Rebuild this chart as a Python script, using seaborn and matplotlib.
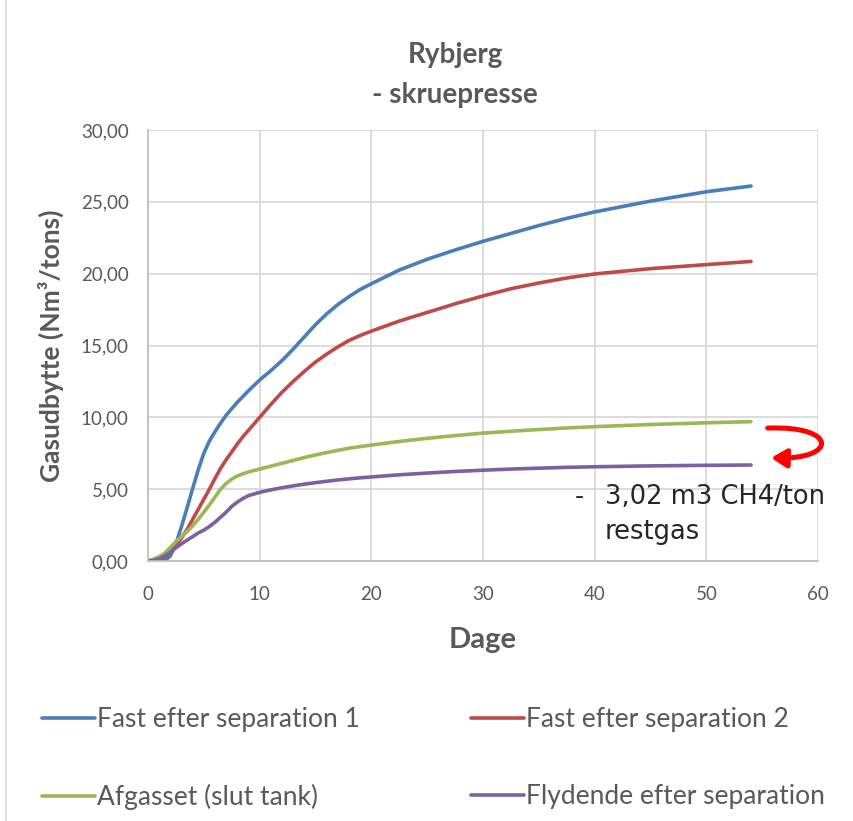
import numpy as np
import pandas as pd
import matplotlib
matplotlib.use("Agg")
import matplotlib.pyplot as plt
import seaborn as sns
from matplotlib.lines import Line2D
from matplotlib.patches import FancyArrowPatch
from matplotlib.path import Path
from matplotlib.ticker import FuncFormatter, MultipleLocator

# Days of incubation
days = [0, 0.5, 1, 1.5, 2, 2.5, 3, 3.5, 4, 4.5, 5, 5.5, 6, 6.5, 7, 7.5, 8, 8.5, 9,
        10, 11, 12, 13, 14, 15, 16, 17, 18, 19, 20, 22.5, 25, 27.5, 30, 32.5, 35,
        37.5, 40, 45, 50, 54]

# Cumulative gas yield (Nm3/ton)
fast_sep_1 = [0, 0, 0, 0.02, 0.35, 1.2, 2.4, 3.7, 5.05, 6.35, 7.5, 8.35, 9.0, 9.6,
              10.15, 10.6, 11.05, 11.45, 11.85, 12.6, 13.25, 13.95, 14.75, 15.6,
              16.45, 17.2, 17.85, 18.4, 18.9, 19.3, 20.25, 21.0, 21.65, 22.25, 22.8,
              23.35, 23.85, 24.3, 25.05, 25.7, 26.1]
fast_sep_2 = [0, 0.03, 0.1, 0.3, 0.6, 1.1, 1.6, 2.2, 2.9, 3.6, 4.3, 5.0, 5.75, 6.45,
              7.05, 7.6, 8.15, 8.65, 9.1, 10.0, 10.9, 11.75, 12.5, 13.2, 13.85, 14.4,
              14.9, 15.35, 15.7, 16.0, 16.7, 17.3, 17.9, 18.45, 18.95, 19.35, 19.7,
              19.98, 20.35, 20.63, 20.85]
afgasset = [0, 0.12, 0.3, 0.55, 0.95, 1.35, 1.7, 2.05, 2.45, 2.9, 3.4, 3.9, 4.45,
            5.0, 5.4, 5.7, 5.92, 6.07, 6.2, 6.4, 6.6, 6.8, 7.0, 7.2, 7.38, 7.55,
            7.7, 7.85, 7.96, 8.07, 8.32, 8.54, 8.73, 8.9, 9.03, 9.15, 9.26, 9.35,
            9.5, 9.62, 9.70]
flydende = [0, 0.05, 0.15, 0.35, 0.62, 0.92, 1.2, 1.45, 1.7, 1.95, 2.15, 2.4, 2.7,
            3.05, 3.4, 3.8, 4.1, 4.35, 4.55, 4.78, 4.95, 5.1, 5.23, 5.35, 5.45,
            5.55, 5.64, 5.72, 5.79, 5.85, 6.0, 6.12, 6.23, 6.32, 6.4, 6.46, 6.52,
            6.56, 6.62, 6.66, 6.68]

series_names = ["Fast efter separation 1", "Fast efter separation 2",
                "Afgasset (slut tank)", "Flydende efter separation"]
series_values = [fast_sep_1, fast_sep_2, afgasset, flydende]
colors = ["#4A7EBB", "#BE4B48", "#98B954", "#7D60A0"]

df = pd.concat(
    [pd.DataFrame({"Dage": days, "Gas": vals, "Serie": name})
     for name, vals in zip(series_names, series_values)],
    ignore_index=True,
)

sns.set_theme(style="white")
plt.rcParams["font.family"] = ["Lato", "DejaVu Sans"]
plt.rcParams["lines.solid_joinstyle"] = "round"
plt.rcParams["lines.solid_capstyle"] = "round"

grey_text = "#595959"
fig = plt.figure(figsize=(8.54, 8.21), dpi=100)
ax = fig.add_axes([148 / 854, (821 - 561) / 821, 670 / 854, 431 / 821])

sns.lineplot(data=df, x="Dage", y="Gas", hue="Serie", hue_order=series_names,
             palette=colors, linewidth=2.6, ax=ax, legend=False, sort=False)

ax.set_xlim(0, 60)
ax.set_ylim(0, 30)
ax.xaxis.set_major_locator(MultipleLocator(10))
ax.yaxis.set_major_locator(MultipleLocator(5))
ax.yaxis.set_major_formatter(FuncFormatter(lambda v, _: f"{v:.2f}".replace(".", ",")))
ax.grid(True, color="#D9D9D9", linewidth=1.3)
ax.set_axisbelow(True)
for side in ["top", "right"]:
    ax.spines[side].set_visible(False)
for side in ["left", "bottom"]:
    ax.spines[side].set_color("#BFBFBF")
    ax.spines[side].set_linewidth(1.3)
ax.tick_params(axis="both", length=0, labelsize=13.5, colors=grey_text)
ax.tick_params(axis="x", pad=18)
ax.tick_params(axis="y", pad=14)

ax.set_xlabel("Dage", fontsize=21, fontweight="bold", color=grey_text, labelpad=17)
ax.set_ylabel("Gasudbytte (Nm³/tons)", fontsize=19, fontweight="bold",
              color=grey_text, labelpad=12)

fig.text(455 / 854, 1 - 55 / 821, "Rybjerg", ha="center", va="center",
         fontsize=20, fontweight="bold", color=grey_text)
fig.text(455 / 854, 1 - 95 / 821, "- skruepresse", ha="center", va="center",
         fontsize=20, fontweight="bold", color=grey_text)

# Curved arrow between the end points of the two lower series
diff = afgasset[-1] - flydende[-1]
x0 = 55.5
y_top = afgasset[-1] - 0.45
y_bot = flydende[-1] + 0.5
verts = [(x0, y_top), (61.8, y_top + 0.2), (61.8, y_bot - 0.15), (x0 + 0.3, y_bot)]
codes = [Path.MOVETO, Path.CURVE4, Path.CURVE4, Path.CURVE4]
arrow = FancyArrowPatch(path=Path(verts, codes),
                        arrowstyle="-|>,head_length=9,head_width=5.5",
                        color="#FF0000", linewidth=3.6, clip_on=False,
                        transform=ax.transData, mutation_scale=1)
ax.add_patch(arrow)

note_font = ["DejaVu Sans"]
fig.text(575 / 854, 1 - 497 / 821, "-", ha="left", va="center", fontsize=18,
         color="#262626", family=note_font)
fig.text(605 / 854, 1 - 497 / 821, f"{diff:.2f}".replace(".", ",") + " m3 CH4/ton",
         ha="left", va="center", fontsize=18.5, color="#262626", family=note_font)
fig.text(605 / 854, 1 - 532 / 821, "restgas", ha="left", va="center", fontsize=18.5,
         color="#262626", family=note_font)

# Legend laid out row by row
handles = [Line2D([0], [0], color=c, linewidth=2.6) for c in colors]
order = [0, 2, 1, 3]
leg = fig.legend([handles[i] for i in order], [series_names[i] for i in order],
                 ncol=2, loc="upper left", bbox_to_anchor=(42 / 854, 1 - 707 / 821),
                 frameon=False, fontsize=19, handlelength=2.0, handletextpad=0.1,
                 labelspacing=1.97, columnspacing=4.2, borderpad=0, borderaxespad=0)
for t in leg.get_texts():
    t.set_color(grey_text)

# Left edge of the chart frame
fig.add_artist(Line2D([6 / 854, 6 / 854], [0, 1], transform=fig.transFigure,
                      color="#D9D9D9", linewidth=1.2))

fig.savefig("out.png", dpi=100)
